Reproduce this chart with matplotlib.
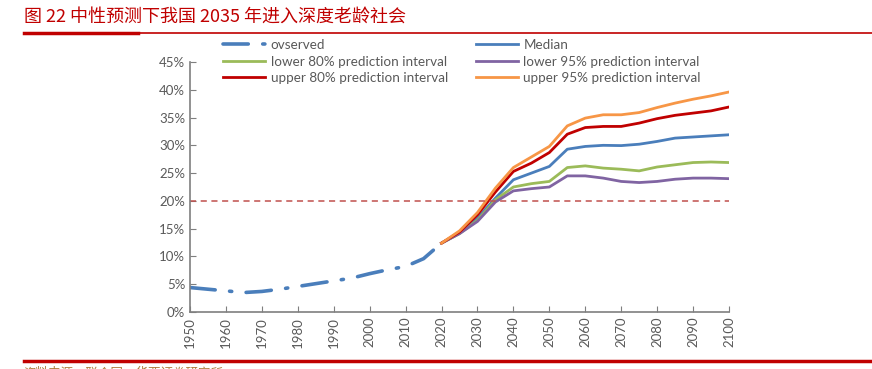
import matplotlib.pyplot as plt
from matplotlib.lines import Line2D
from matplotlib.ticker import PercentFormatter

plt.rcParams['font.family'] = ['Lato', 'Noto Sans CJK SC', 'DejaVu Sans']

# observed share of population aged 65+ (%)
obs_years = [1950, 1955, 1960, 1965, 1970, 1975, 1980, 1985, 1990, 1995,
             2000, 2005, 2010, 2015, 2020]
observed = [4.4, 4.1, 3.8, 3.5, 3.7, 4.1, 4.6, 5.1, 5.6, 6.1,
            6.9, 7.6, 8.2, 9.6, 12.4]

# projections
proj_years = list(range(2020, 2101, 5))
median = [12.4, 14.2, 16.9, 20.5, 23.8, 25.0, 26.2, 29.3, 29.8, 30.0,
          29.95, 30.2, 30.7, 31.3, 31.5, 31.7, 31.9]
lower80 = [12.4, 14.1, 16.5, 20.2, 22.5, 23.1, 23.5, 26.0, 26.3, 25.9,
           25.7, 25.4, 26.1, 26.5, 26.9, 27.0, 26.9]
lower95 = [12.4, 14.1, 16.3, 19.8, 21.8, 22.2, 22.5, 24.5, 24.5, 24.1,
           23.5, 23.3, 23.5, 23.9, 24.1, 24.1, 24.0]
upper80 = [12.4, 14.4, 17.5, 21.6, 25.3, 26.8, 28.7, 32.0, 33.2, 33.4,
           33.4, 34.0, 34.8, 35.4, 35.8, 36.2, 36.9]
upper95 = [12.4, 14.6, 17.9, 22.3, 26.0, 27.9, 29.8, 33.5, 34.9, 35.5,
           35.5, 35.9, 36.8, 37.6, 38.3, 38.9, 39.6]

threshold = 20

fig = plt.figure(figsize=(8.72, 3.69), dpi=100)
ax = fig.add_axes([0.2179, 0.1545, 0.6181, 0.6775])

grey = '#595959'
blue = '#4A7EBB'
obs_style = (0, (7, 4, 0.6, 4))

l_obs, = ax.plot(obs_years, observed, color=blue, lw=2.6, linestyle=obs_style,
                 dash_capstyle='round')
l_med, = ax.plot(proj_years, median, color=blue, lw=2)
l_lo80, = ax.plot(proj_years, lower80, color='#9BBB59', lw=2)
l_lo95, = ax.plot(proj_years, lower95, color='#8064A2', lw=2)
l_up80, = ax.plot(proj_years, upper80, color='#C00000', lw=2)
l_up95, = ax.plot(proj_years, upper95, color='#F79646', lw=2)
ax.plot([1950, 2100], [threshold, threshold], color='#C0504D', lw=1.1,
        linestyle=(0, (4, 3)))

ax.set_xlim(1950, 2100)
ax.set_ylim(0, 45)
ax.set_xticks(range(1950, 2101, 10))
ax.set_yticks(range(0, 46, 5))
ax.yaxis.set_major_formatter(PercentFormatter(decimals=0))
ax.tick_params(axis='x', labelrotation=90)
ax.tick_params(direction='in', length=4, color='#7F7F7F', labelcolor=grey,
               labelsize=9.5)
for s in ['top', 'right']:
    ax.spines[s].set_visible(False)
for s in ['left', 'bottom']:
    ax.spines[s].set_color('#7F7F7F')
    ax.spines[s].set_linewidth(1.2)

# legend filled column by column, so order it to read row by row
handles = [l_obs, l_lo80, l_up80, l_med, l_lo95, l_up95]
labels = ['ovserved', 'lower 80% prediction interval',
          'upper 80% prediction interval', 'Median',
          'lower 95% prediction interval', 'upper 95% prediction interval']
leg = fig.legend(handles, labels, ncol=2, loc='upper left',
                 bbox_to_anchor=(0.2485, 0.912), frameon=False, fontsize=9.7,
                 handlelength=3.1, handletextpad=0.4, columnspacing=2.1,
                 labelspacing=0.32, borderpad=0)
for t in leg.get_texts():
    t.set_color(grey)

# title and separators
fig.text(0.027, 0.955, '图 22 中性预测下我国 2035 年进入深度老龄社会',
         color='#C00000', fontsize=13, va='center', ha='left',
         family=['Noto Sans CJK SC', 'DejaVu Sans'])
fig.add_artist(Line2D([0.027, 1.0], [0.91, 0.91], color='#C00000', lw=1.2))
fig.add_artist(Line2D([0.027, 0.158], [0.91, 0.91], color='#C00000', lw=2.5))
fig.add_artist(Line2D([0.027, 1.0], [0.022, 0.022], color='#C00000', lw=2.5))
fig.text(0.027, -0.012, '资料来源：联合国，华西证券研究所', color='#B07A3A',
         fontsize=9, va='center', ha='left',
         family=['Noto Sans CJK SC', 'DejaVu Sans'])

fig.savefig('out.png', dpi=100)
